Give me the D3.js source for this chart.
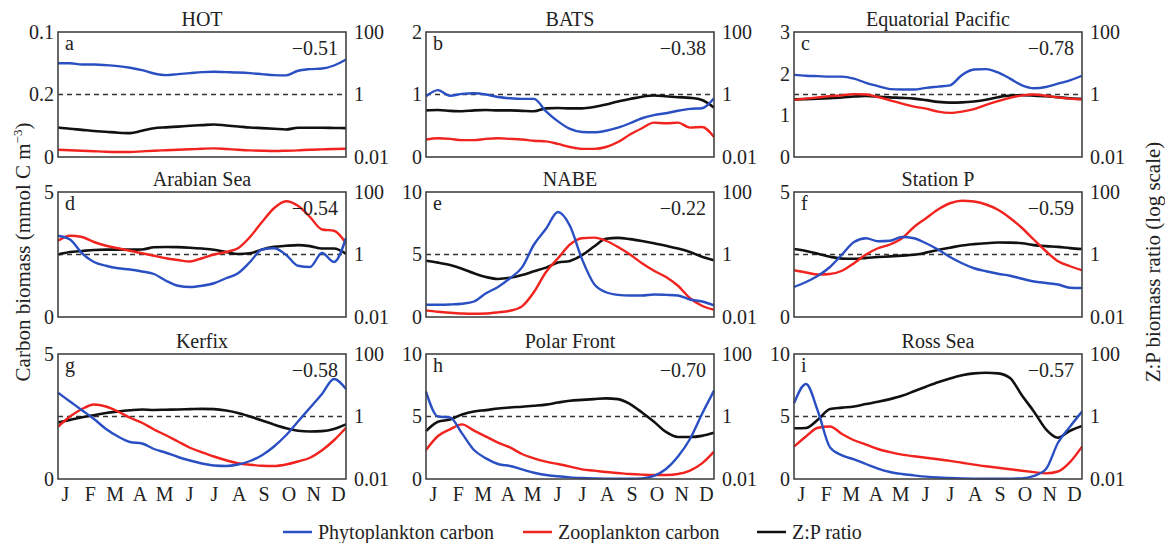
<!DOCTYPE html>
<html>
<head>
<meta charset="utf-8">
<script src="https://cdn.jsdelivr.net/npm/d3@7"></script>
<style>
  body { margin: 0; background: #fff; }
  text { font-family: "Liberation Serif", "Times New Roman", serif; fill: #222; }
</style>
</head>
<body>
<div id="chart"></div>
<script>
// values sampled every half month (25 points, Jan 1 .. Dec 31)
const months = ["J", "F", "M", "A", "M", "J", "J", "A", "S", "O", "N", "D"];
const ratioTicks = [0.01, 1, 100];
const ratioTickLabels = ["0.01", "1", "100"];

const hotPhyto = [0.075, 0.075, 0.074, 0.074, 0.0735, 0.0727, 0.0714, 0.0695, 0.0668, 0.0655, 0.0663, 0.0671, 0.0679, 0.0682, 0.0679, 0.0676, 0.0671, 0.0663, 0.0655, 0.0653, 0.069, 0.0703, 0.0708, 0.0732, 0.078];
const hotZoo = [0.0058, 0.0054, 0.005, 0.0046, 0.0042, 0.004, 0.004, 0.0045, 0.005, 0.0054, 0.0058, 0.0062, 0.0066, 0.0069, 0.0064, 0.0058, 0.0053, 0.005, 0.0048, 0.005, 0.0053, 0.0058, 0.0061, 0.0064, 0.0066];
const hotRatio = [0.088, 0.08, 0.074, 0.068, 0.064, 0.06, 0.058, 0.069, 0.083, 0.089, 0.094, 0.1, 0.105, 0.11, 0.102, 0.095, 0.088, 0.084, 0.08, 0.076, 0.086, 0.086, 0.086, 0.085, 0.084];

const batsPhyto = [0.97, 1.07, 0.98, 1.01, 1.02, 1.0, 0.96, 0.94, 0.93, 0.93, 0.73, 0.57, 0.45, 0.40, 0.395, 0.42, 0.47, 0.54, 0.62, 0.67, 0.70, 0.74, 0.77, 0.78, 0.94];
const batsZoo = [0.28, 0.30, 0.29, 0.27, 0.27, 0.29, 0.30, 0.29, 0.28, 0.26, 0.25, 0.21, 0.16, 0.13, 0.13, 0.16, 0.24, 0.36, 0.46, 0.55, 0.54, 0.55, 0.47, 0.48, 0.32];
const batsRatio = [0.31, 0.32, 0.30, 0.29, 0.31, 0.32, 0.31, 0.31, 0.30, 0.29, 0.36, 0.37, 0.36, 0.36, 0.40, 0.48, 0.60, 0.72, 0.85, 0.93, 0.88, 0.82, 0.78, 0.67, 0.38];

const eqpacPhyto = [1.97, 1.95, 1.94, 1.93, 1.93, 1.88, 1.78, 1.70, 1.63, 1.62, 1.62, 1.66, 1.69, 1.72, 1.97, 2.10, 2.11, 2.03, 1.88, 1.72, 1.65, 1.68, 1.76, 1.84, 1.95];
const eqpacZoo = [1.37, 1.40, 1.43, 1.46, 1.48, 1.51, 1.50, 1.44, 1.36, 1.28, 1.21, 1.16, 1.09, 1.06, 1.09, 1.15, 1.25, 1.34, 1.42, 1.48, 1.50, 1.47, 1.43, 1.40, 1.38];
const eqpacRatio = [0.70, 0.71, 0.73, 0.76, 0.80, 0.86, 0.90, 0.86, 0.81, 0.78, 0.74, 0.66, 0.58, 0.55, 0.56, 0.60, 0.68, 0.82, 0.93, 0.95, 0.92, 0.88, 0.82, 0.76, 0.73];

const arabPhyto = [3.25, 3.1, 2.55, 2.2, 2.05, 1.95, 1.9, 1.82, 1.72, 1.45, 1.25, 1.2, 1.25, 1.35, 1.55, 1.75, 2.2, 2.7, 2.75, 2.49, 2.05, 2.0, 2.56, 2.2, 3.16];
const arabZoo = [3.05, 3.25, 3.2, 3.0, 2.85, 2.75, 2.65, 2.55, 2.45, 2.35, 2.28, 2.22, 2.35, 2.5, 2.6, 2.75, 3.2, 3.8, 4.35, 4.63, 4.45, 4.0, 3.5, 3.45, 2.95];
const arabRatio = [1.0, 1.2, 1.3, 1.4, 1.43, 1.43, 1.43, 1.45, 1.7, 1.74, 1.72, 1.65, 1.55, 1.42, 1.2, 1.04, 1.1, 1.45, 1.75, 1.9, 2.0, 1.85, 1.55, 1.55, 1.05];

const nabePhyto = [0.98, 0.98, 1.0, 1.06, 1.24, 1.9, 2.4, 3.1, 3.97, 5.8, 7.06, 8.4, 7.28, 4.63, 2.65, 1.98, 1.77, 1.72, 1.72, 1.8, 1.77, 1.72, 1.4, 1.24, 0.93];
const nabeZoo = [0.53, 0.42, 0.34, 0.28, 0.26, 0.28, 0.37, 0.5, 0.85, 2.0, 3.6, 4.7, 5.8, 6.3, 6.35, 6.1, 5.6, 5.0, 4.3, 3.7, 3.2, 2.5, 1.5, 0.9, 0.58];
const nabeRatio = [0.63, 0.55, 0.46, 0.35, 0.25, 0.19, 0.165, 0.18, 0.22, 0.29, 0.38, 0.55, 0.62, 0.95, 1.8, 3.2, 3.4, 3.1, 2.7, 2.3, 1.9, 1.55, 1.2, 0.85, 0.66];

const stapPhyto = [1.2, 1.4, 1.65, 2.0, 2.5, 3.0, 3.15, 3.03, 3.05, 3.2, 3.15, 2.95, 2.7, 2.4, 2.15, 1.95, 1.83, 1.73, 1.65, 1.53, 1.42, 1.36, 1.3, 1.17, 1.16];
const stapZoo = [1.87, 1.78, 1.7, 1.72, 1.85, 2.15, 2.5, 2.75, 2.9, 3.15, 3.6, 3.95, 4.3, 4.55, 4.65, 4.62, 4.5, 4.29, 3.96, 3.56, 3.09, 2.63, 2.23, 2.03, 1.87];
const stapRatio = [1.5, 1.3, 1.05, 0.85, 0.74, 0.73, 0.78, 0.83, 0.87, 0.92, 0.98, 1.15, 1.4, 1.65, 1.95, 2.15, 2.3, 2.42, 2.4, 2.3, 2.0, 1.85, 1.75, 1.6, 1.5];

const kerfPhyto = [3.45, 3.1, 2.75, 2.4, 2.0, 1.7, 1.48, 1.42, 1.2, 1.05, 0.88, 0.74, 0.62, 0.54, 0.52, 0.58, 0.72, 0.95, 1.3, 1.75, 2.3, 2.85, 3.4, 4.0, 3.6];
const kerfZoo = [2.09, 2.5, 2.8, 2.98, 2.9, 2.7, 2.45, 2.25, 1.98, 1.75, 1.5, 1.25, 1.07, 0.9, 0.75, 0.63, 0.57, 0.53, 0.52, 0.58, 0.7, 0.85, 1.15, 1.55, 2.05];
const kerfRatio = [0.64, 0.78, 0.95, 1.1, 1.3, 1.45, 1.58, 1.68, 1.62, 1.65, 1.68, 1.72, 1.76, 1.72, 1.55, 1.3, 1.0, 0.75, 0.55, 0.42, 0.35, 0.33, 0.34, 0.4, 0.56];

const polarPhyto = [7.0, 5.0, 4.93, 3.65, 2.32, 1.65, 1.2, 1.04, 0.77, 0.5, 0.32, 0.22, 0.13, 0.08, 0.05, 0.03, 0.02, 0.02, 0.05, 0.25, 0.8, 1.8, 3.2, 5.2, 7.07];
const polarZoo = [2.32, 3.44, 3.97, 4.37, 3.87, 3.39, 2.91, 2.53, 2.0, 1.65, 1.39, 1.2, 0.99, 0.77, 0.67, 0.56, 0.48, 0.4, 0.35, 0.32, 0.32, 0.4, 0.67, 1.25, 2.19];
const polarRatio = [0.34, 0.68, 0.8, 1.15, 1.45, 1.6, 1.8, 1.95, 2.05, 2.2, 2.4, 2.8, 3.2, 3.4, 3.6, 3.8, 3.6, 2.5, 1.35, 0.68, 0.32, 0.22, 0.22, 0.24, 0.3];

const rossPhyto = [6.05, 7.6, 5.4, 2.53, 1.89, 1.57, 1.2, 0.83, 0.56, 0.4, 0.29, 0.19, 0.12, 0.08, 0.05, 0.03, 0.02, 0.02, 0.03, 0.05, 0.25, 0.8, 2.9, 4.19, 5.39];
const rossZoo = [2.59, 3.4, 4.1, 4.2, 3.6, 3.1, 2.75, 2.4, 2.15, 1.95, 1.82, 1.7, 1.58, 1.45, 1.3, 1.15, 1.02, 0.9, 0.78, 0.66, 0.55, 0.45, 0.6, 1.35, 2.59];
const rossRatio = [0.42, 0.43, 0.8, 1.75, 1.92, 2.1, 2.5, 2.95, 3.6, 4.6, 6.4, 9.0, 12.5, 16.5, 21, 24, 25, 24, 17, 4.7, 1.43, 0.39, 0.21, 0.35, 0.5];

const stations = [
  { name: "HOT", letter: "a", corr: "\u22120.51", max: 0.1, ticks: ["0", "0.2", "0.1"], phyto: hotPhyto, zoo: hotZoo, ratio: hotRatio },
  { name: "BATS", letter: "b", corr: "\u22120.38", max: 2, ticks: ["0", "1", "2"], phyto: batsPhyto, zoo: batsZoo, ratio: batsRatio },
  { name: "Equatorial Pacific", letter: "c", corr: "\u22120.78", max: 3, ticks: ["0", "1", "2", "3"], phyto: eqpacPhyto, zoo: eqpacZoo, ratio: eqpacRatio },
  { name: "Arabian Sea", letter: "d", corr: "\u22120.54", max: 5, ticks: ["0", "5"], phyto: arabPhyto, zoo: arabZoo, ratio: arabRatio },
  { name: "NABE", letter: "e", corr: "\u22120.22", max: 10, ticks: ["0", "5", "10"], phyto: nabePhyto, zoo: nabeZoo, ratio: nabeRatio },
  { name: "Station P", letter: "f", corr: "\u22120.59", max: 5, ticks: ["0", "5"], phyto: stapPhyto, zoo: stapZoo, ratio: stapRatio },
  { name: "Kerfix", letter: "g", corr: "\u22120.58", max: 5, ticks: ["0", "5"], phyto: kerfPhyto, zoo: kerfZoo, ratio: kerfRatio },
  { name: "Polar Front", letter: "h", corr: "\u22120.70", max: 10, ticks: ["0", "5", "10"], phyto: polarPhyto, zoo: polarZoo, ratio: polarRatio },
  { name: "Ross Sea", letter: "i", corr: "\u22120.57", max: 10, ticks: ["0", "5", "10"], phyto: rossPhyto, zoo: rossZoo, ratio: rossRatio }
];

const legendItems = [
  { label: "Phytoplankton carbon", color: "#2a4fc2" },
  { label: "Zooplankton carbon", color: "#f0231e" },
  { label: "Z:P ratio", color: "#111" }
];

const width = 1165, height = 543;
const colX = [58, 426, 794];
const rowY = [32, 192, 354];
const pw = 288, ph = 125;
const fs = "20px";

const svg = d3.select("#chart").append("svg")
  .attr("width", width)
  .attr("height", height);

let x = d3.scaleLinear().domain([0, 24]).range([0, pw]);
let xMonth = d3.scalePoint().domain(d3.range(12)).range([0, pw]).padding(0.3);
let yR = d3.scaleLog().domain([0.01, 100]).range([ph, 0]);

stations.forEach(function(s, i) {
  let col = i % 3, row = Math.floor(i / 3);
  let g = svg.append("g").attr("transform", `translate(${colX[col]}, ${rowY[row]})`);

  let y = d3.scaleLinear().domain([0, s.max]).range([ph, 0]);
  let tickVals = s.ticks.map(function(t, j) { return s.max * j / (s.ticks.length - 1); });

  // left axis
  let left = g.append("g")
    .call(d3.axisLeft(y).tickValues(tickVals).tickSize(0).tickPadding(4)
      .tickFormat(function(d, j) { return s.ticks[j]; }));
  left.select(".domain").remove();
  left.selectAll("text").style("font-size", fs).style("font-family", "Liberation Serif").attr("fill", "#222");

  // right axis (log)
  let right = g.append("g").attr("transform", `translate(${pw}, 0)`)
    .call(d3.axisRight(yR).tickValues(ratioTicks).tickSize(0).tickPadding(8)
      .tickFormat(function(d, j) { return ratioTickLabels[j]; }));
  right.select(".domain").remove();
  right.selectAll("text").style("font-size", fs).style("font-family", "Liberation Serif").attr("fill", "#222");

  // ratio = 1 reference
  g.append("line")
    .attr("x1", 0).attr("x2", pw)
    .attr("y1", yR(1)).attr("y2", yR(1))
    .attr("stroke", "#333").attr("stroke-width", 1.5)
    .attr("stroke-dasharray", "5,4");

  let line = d3.line()
    .x(function(d, j) { return x(j); })
    .curve(d3.curveMonotoneX);

  g.append("path").datum(s.ratio)
    .attr("d", line.y(function(d) { return yR(d); }))
    .attr("fill", "none").attr("stroke", legendItems[2].color).attr("stroke-width", 2.6);
  g.append("path").datum(s.zoo)
    .attr("d", line.y(function(d) { return y(d); }))
    .attr("fill", "none").attr("stroke", legendItems[1].color).attr("stroke-width", 2.4);
  g.append("path").datum(s.phyto)
    .attr("d", line.y(function(d) { return y(d); }))
    .attr("fill", "none").attr("stroke", legendItems[0].color).attr("stroke-width", 2.4);

  // frame
  g.append("rect")
    .attr("width", pw).attr("height", ph)
    .attr("fill", "none").attr("stroke", "#444").attr("stroke-width", 1.6);

  g.append("text")
    .attr("x", pw / 2).attr("y", -6)
    .attr("text-anchor", "middle")
    .style("font-size", fs)
    .text(s.name);

  g.append("text")
    .attr("x", 7).attr("y", 18)
    .style("font-size", fs)
    .text(s.letter);

  g.append("text")
    .attr("x", pw - 8).attr("y", 23)
    .attr("text-anchor", "end")
    .style("font-size", fs)
    .text(s.corr);

  if (row === 2) {
    g.selectAll(".month").data(months).enter()
      .append("text")
      .attr("class", "month")
      .attr("x", function(d, j) { return xMonth(j); })
      .attr("y", ph + 22)
      .attr("text-anchor", "middle")
      .style("font-size", fs)
      .text(function(d) { return d; });
  }
});

// axis titles
let yl = svg.append("text")
  .attr("transform", "translate(30, 252) rotate(-90)")
  .attr("text-anchor", "middle")
  .style("font-size", "21px");
yl.append("tspan").text("Carbon biomass (mmol C m");
yl.append("tspan").attr("dy", -8).style("font-size", "13px").text("\u22123");
yl.append("tspan").attr("dy", 8).text(")");

svg.append("text")
  .attr("transform", "translate(1160, 262) rotate(-90)")
  .attr("text-anchor", "middle")
  .style("font-size", "21px")
  .text("Z:P biomass ratio (log scale)");

// legend
let legendX = [283, 523, 757];
legendItems.forEach(function(d, i) {
  svg.append("line")
    .attr("x1", legendX[i]).attr("x2", legendX[i] + 29)
    .attr("y1", 532).attr("y2", 532)
    .attr("stroke", d.color).attr("stroke-width", 2.5);
  svg.append("text")
    .attr("x", legendX[i] + 35).attr("y", 539)
    .style("font-size", fs)
    .text(d.label);
});
</script>
</body>
</html>
